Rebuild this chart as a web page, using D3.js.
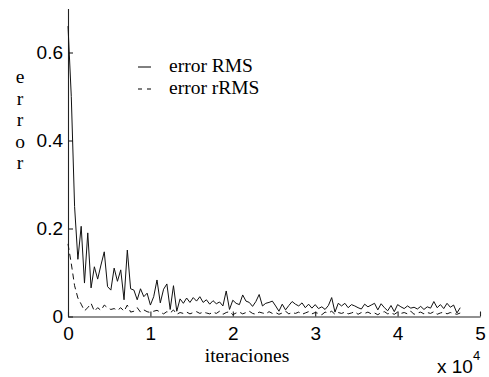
<!DOCTYPE html>
<html>
<head>
<meta charset="utf-8">
<script src="https://cdn.jsdelivr.net/npm/d3@7/dist/d3.min.js"></script>
<style>
  body { margin: 0; background: #fff; }
  svg { display: block; }
  .axis path, .axis line { stroke: #222; stroke-width: 1.1; }
  .axis text { font-family: "Liberation Sans", Arial, sans-serif; font-size: 19px; fill: #000; }
  .serif { font-family: "Liberation Serif", "Times New Roman", serif; font-size: 19.5px; fill: #000; }
</style>
</head>
<body>
<div id="chart"></div>
<script>
// samples were logged every 400 iterations
var sampleStep = 400;

// error RMS (solid line)
var rmsError = [
  0.66, 0.50, 0.25, 0.13, 0.205, 0.076, 0.19, 0.065, 0.113, 0.085,
  0.117, 0.147, 0.068, 0.06, 0.11, 0.08, 0.106, 0.038, 0.151, 0.063,
  0.06, 0.038, 0.063, 0.045, 0.053, 0.026, 0.045, 0.083, 0.031, 0.062,
  0.074, 0.016, 0.07, 0.012, 0.04, 0.03, 0.042, 0.032, 0.043, 0.035,
  0.045, 0.032, 0.038, 0.028, 0.036, 0.029, 0.033, 0.024, 0.058, 0.016,
  0.037, 0.03, 0.027, 0.049, 0.035, 0.032, 0.023, 0.034, 0.05, 0.024,
  0.03, 0.032, 0.035, 0.024, 0.012, 0.028, 0.015, 0.025, 0.034, 0.028,
  0.024, 0.031, 0.02, 0.028, 0.019, 0.027, 0.018, 0.022, 0.016, 0.025,
  0.043, 0.01, 0.03, 0.024, 0.03, 0.02, 0.027, 0.024, 0.02, 0.017,
  0.028, 0.022, 0.026, 0.03, 0.015, 0.029, 0.02, 0.013, 0.025, 0.011,
  0.027, 0.022, 0.018, 0.024, 0.019, 0.021, 0.017, 0.023, 0.016, 0.022,
  0.019, 0.034, 0.02, 0.027, 0.018, 0.03, 0.021, 0.026, 0.008, 0.02
];

// error rRMS (dashed line)
var rrmsError = [
  0.165, 0.12, 0.07, 0.042, 0.028, 0.013, 0.02, 0.03, 0.012, 0.02,
  0.014, 0.026, 0.02, 0.016, 0.018, 0.014, 0.02, 0.012, 0.026, 0.01,
  0.012, 0.02, 0.01, 0.015, 0.011, 0.009, 0.012, 0.014, 0.01, 0.006,
  0.011, 0.008, 0.015, 0.005, 0.009, 0.007, 0.01, 0.006, 0.009, 0.011,
  0.007, 0.01, 0.008, 0.006, 0.01, 0.007, 0.012, 0.005, 0.009, 0.011,
  0.004, 0.008, 0.01, 0.006, 0.009, 0.012, 0.007, 0.005, 0.01, 0.008,
  0.006, 0.011, 0.007, 0.009, 0.005, 0.008, 0.012, 0.006, 0.009, 0.007,
  0.01, 0.005, 0.008, 0.011, 0.006, 0.009, 0.007, 0.004, 0.01, 0.008,
  0.012, 0.005, 0.009, 0.007, 0.01, 0.006, 0.008, 0.011, 0.005, 0.009,
  0.007, 0.01, 0.006, 0.008, 0.004, 0.009, 0.011, 0.006, 0.008, 0.005,
  0.01, 0.007, 0.009, 0.006, 0.012, 0.005, 0.008, 0.01, 0.006, 0.009,
  0.007, 0.011, 0.005, 0.008, 0.01, 0.006, 0.009, 0.007, 0.005, 0.008
];

var xTicks = [0, 10000, 20000, 30000, 40000, 50000];
var yTicks = [0, 0.2, 0.4, 0.6];
var legendLabels = ["error RMS", "error rRMS"];
var yLabel = ["e", "r", "r", "o", "r"];

var W = 489, H = 377;
var margin = { top: 8.5, right: 9, bottom: 60.5, left: 68 };
var width = W - margin.left - margin.right;
var height = H - margin.top - margin.bottom;

var svg = d3.select("#chart").append("svg")
    .attr("width", W)
    .attr("height", H);

var g = svg.append("g")
    .attr("transform", "translate(" + margin.left + "," + margin.top + ")");

var x = d3.scaleLinear().domain([0, 50000]).range([0, width]);
var y = d3.scaleLinear().domain([0, 0.7]).range([height, 0]);

// ticks point into the plot, like the original figure
g.append("g")
    .attr("class", "axis")
    .attr("transform", "translate(0," + height + ")")
    .call(d3.axisBottom(x).tickValues(xTicks).tickSizeInner(-5).tickSizeOuter(0)
      .tickPadding(10).tickFormat(function (d) { return d / 10000; }));

g.append("g")
    .attr("class", "axis")
    .call(d3.axisLeft(y).tickValues(yTicks).tickSizeInner(-5).tickSizeOuter(0)
      .tickPadding(5).tickFormat(d3.format("")));

var line = d3.line()
    .x(function (d, i) { return x(i * sampleStep); })
    .y(function (d) { return y(d); });

g.append("path")
    .datum(rrmsError)
    .attr("fill", "none")
    .attr("stroke", "#111")
    .attr("stroke-width", 1)
    .attr("stroke-dasharray", "6,4")
    .attr("d", line);

g.append("path")
    .datum(rmsError)
    .attr("fill", "none")
    .attr("stroke", "#111")
    .attr("stroke-width", 1)
    .attr("d", line);

// legend
var legend = svg.append("g").attr("transform", "translate(138,67)");
legendLabels.forEach(function (lbl, i) {
  legend.append("line")
      .attr("x1", 0).attr("x2", 13)
      .attr("y1", i * 22).attr("y2", i * 22)
      .attr("stroke", "#000")
      .attr("stroke-width", 1)
      .attr("stroke-dasharray", i === 1 ? "4,5" : null);
  legend.append("text")
      .attr("class", "serif")
      .attr("x", 31)
      .attr("y", i * 22 + 5)
      .text(lbl);
});

// y label: letters stacked vertically
svg.append("g").selectAll("text")
    .data(yLabel)
    .enter().append("text")
    .attr("class", "serif")
    .attr("text-anchor", "middle")
    .attr("x", 20)
    .attr("y", function (d, i) { return 83 + i * 21.5; })
    .text(function (d) { return d; });

svg.append("text")
    .attr("class", "serif")
    .attr("text-anchor", "middle")
    .attr("x", 247)
    .attr("y", 362)
    .text("iteraciones");

var mult = svg.append("text")
    .attr("x", 437)
    .attr("y", 373)
    .style("font-family", "Liberation Sans, Arial, sans-serif")
    .style("font-size", "19px");
mult.append("tspan").text("x 10");
mult.append("tspan").attr("dy", -13).style("font-size", "13px").text("4");
</script>
</body>
</html>
